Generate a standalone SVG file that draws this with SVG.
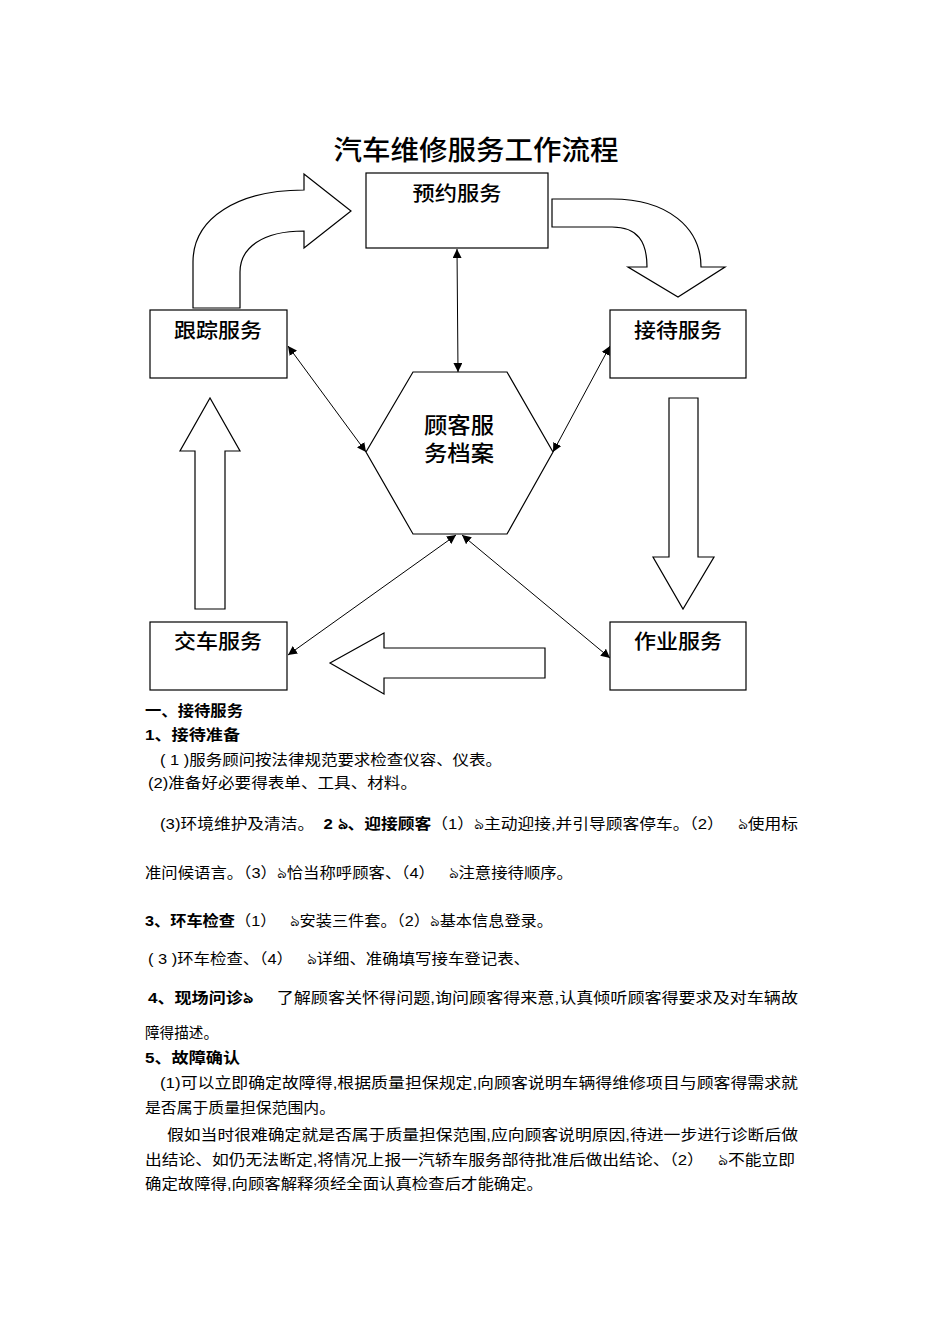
<svg xmlns="http://www.w3.org/2000/svg" width="950" height="1344" viewBox="0 0 950 1344">
<defs>
<marker id="ah" viewBox="0 0 10 10" refX="10" refY="5" markerWidth="9" markerHeight="9" markerUnits="userSpaceOnUse" orient="auto-start-reverse">
<path d="M0,0 L10,5 L0,10 Z" fill="#000"/>
</marker>
<style>
.box{fill:#fff;stroke:#000;stroke-width:1.2}
.blk{fill:#fff;stroke:#000;stroke-width:1.2}
.con{stroke:#000;stroke-width:1;fill:none}
.lbl{font-family:"Liberation Sans","Noto Sans CJK SC",sans-serif;font-size:20px;fill:#000;text-anchor:middle;dominant-baseline:central;font-weight:500}
.title{font-family:"Liberation Sans","Noto Sans CJK SC",sans-serif;font-size:27px;fill:#000;text-anchor:middle;dominant-baseline:central;font-weight:500}
.t{font-family:"Liberation Sans","Noto Sans CJK SC",sans-serif;font-size:15px;fill:#000;dominant-baseline:central;white-space:pre}
.b{font-weight:bold}
</style>
</defs>
<rect width="950" height="1344" fill="#fff"/>
<text class="title" x="476" y="151" textLength="285" lengthAdjust="spacingAndGlyphs">汽车维修服务工作流程</text>

<g id="flow-arrows">
<path class="blk" d="M193,308 L193,262 C193,218 238,190 304,190 L304,174 L351,211 L304,248 L304,231 C262,231 240,248 240,272 L240,308 Z"/>
<path class="blk" d="M552,199 L612,199 C668,199 701,228 701,267 L725,267 L678,297 L628,267 L647,267 C647,242 638,227 612,227 L552,227 Z"/>
<path class="blk" d="M669,398 L698,398 L698,557 L714,557 L683,609 L653,557 L669,557 Z"/>
<path class="blk" d="M545,648 L545,678 L384,678 L384,694 L330,663 L384,633 L384,648 Z"/>
<path class="blk" d="M195,609 L195,451 L180,451 L210,398 L240,451 L225,451 L225,609 Z"/>
</g>

<g id="connectors">
<line class="con" x1="457" y1="249" x2="458" y2="372" marker-start="url(#ah)" marker-end="url(#ah)"/>
<line class="con" x1="288" y1="346" x2="366" y2="452" marker-start="url(#ah)" marker-end="url(#ah)"/>
<line class="con" x1="610" y1="346" x2="553" y2="452" marker-start="url(#ah)" marker-end="url(#ah)"/>
<line class="con" x1="456" y1="535" x2="288" y2="655" marker-start="url(#ah)" marker-end="url(#ah)"/>
<line class="con" x1="462" y1="535" x2="610" y2="658" marker-start="url(#ah)" marker-end="url(#ah)"/>
</g>

<g id="node-yuyue">
<rect class="box" x="366" y="173" width="182" height="75"/>
<text class="lbl" x="457" y="194" textLength="89" lengthAdjust="spacingAndGlyphs">预约服务</text>
</g>
<g id="node-genzong">
<rect class="box" x="150" y="310" width="137" height="68"/>
<text class="lbl" x="218" y="331" textLength="88" lengthAdjust="spacingAndGlyphs">跟踪服务</text>
</g>
<g id="node-jiedai">
<rect class="box" x="610" y="310" width="136" height="68"/>
<text class="lbl" x="678" y="331" textLength="88" lengthAdjust="spacingAndGlyphs">接待服务</text>
</g>
<g id="node-jiaoche">
<rect class="box" x="150" y="622" width="137" height="68"/>
<text class="lbl" x="218" y="642" textLength="88" lengthAdjust="spacingAndGlyphs">交车服务</text>
</g>
<g id="node-zuoye">
<rect class="box" x="610" y="622" width="136" height="68"/>
<text class="lbl" x="678" y="642" textLength="88" lengthAdjust="spacingAndGlyphs">作业服务</text>
</g>
<g id="node-dangan">
<polygon class="box" points="413,372 507,372 553,452 507,534 413,534 366,452"/>
<text class="lbl" x="459" y="425" style="font-size:22px" textLength="70" lengthAdjust="spacingAndGlyphs">顾客服</text>
<text class="lbl" x="459" y="453" style="font-size:22px" textLength="70" lengthAdjust="spacingAndGlyphs">务档案</text>
</g>

<g id="body-text">
<text class="t b" x="145" y="710" textLength="98" lengthAdjust="spacingAndGlyphs">一、接待服务</text>
<text class="t b" x="145" y="734" textLength="95" lengthAdjust="spacingAndGlyphs">1、接待准备</text>
<text class="t" x="160" y="759" textLength="342" lengthAdjust="spacingAndGlyphs">( 1 )服务顾问按法律规范要求检查仪容、仪表。</text>
<text class="t" x="148" y="782" textLength="269" lengthAdjust="spacingAndGlyphs">(2)准备好必要得表单、工具、材料。</text>
<text class="t" x="160" y="823" textLength="638" lengthAdjust="spacingAndGlyphs">(3)环境维护及清洁。  <tspan class="b">2 ঌ、迎接顾客</tspan>（1）ঌ主动迎接,并引导顾客停车。（2）   ঌ使用标</text>
<text class="t" x="145" y="872" textLength="428" lengthAdjust="spacingAndGlyphs">准问候语言。（3）ঌ恰当称呼顾客、（4）   ঌ注意接待顺序。</text>
<text class="t" x="145" y="920" textLength="408" lengthAdjust="spacingAndGlyphs"><tspan class="b">3、环车检查</tspan>（1）   ঌ安装三件套。（2）ঌ基本信息登录。</text>
<text class="t" x="148" y="958" textLength="382" lengthAdjust="spacingAndGlyphs">( 3 )环车检查、（4）   ঌ详细、准确填写接车登记表、</text>
<text class="t" x="148" y="997" textLength="650" lengthAdjust="spacingAndGlyphs"><tspan class="b">4、现场问诊ঌ</tspan>     了解顾客关怀得问题,询问顾客得来意,认真倾听顾客得要求及对车辆故</text>
<text class="t" x="145" y="1032" textLength="73" lengthAdjust="spacingAndGlyphs">障得描述。</text>
<text class="t b" x="145" y="1057" textLength="95" lengthAdjust="spacingAndGlyphs">5、故障确认</text>
<text class="t" x="160" y="1082" textLength="638" lengthAdjust="spacingAndGlyphs">(1)可以立即确定故障得,根据质量担保规定,向顾客说明车辆得维修项目与顾客得需求就</text>
<text class="t" x="145" y="1107" textLength="190" lengthAdjust="spacingAndGlyphs">是否属于质量担保范围内。</text>
<text class="t" x="167" y="1134" textLength="631" lengthAdjust="spacingAndGlyphs">假如当时很难确定就是否属于质量担保范围,应向顾客说明原因,待进一步进行诊断后做</text>
<text class="t" x="145" y="1159" textLength="650" lengthAdjust="spacingAndGlyphs">出结论、如仍无法断定,将情况上报一汽轿车服务部待批准后做出结论、（2）   ঌ不能立即</text>
<text class="t" x="145" y="1183" textLength="398" lengthAdjust="spacingAndGlyphs">确定故障得,向顾客解释须经全面认真检查后才能确定。</text>
</g>
</svg>
